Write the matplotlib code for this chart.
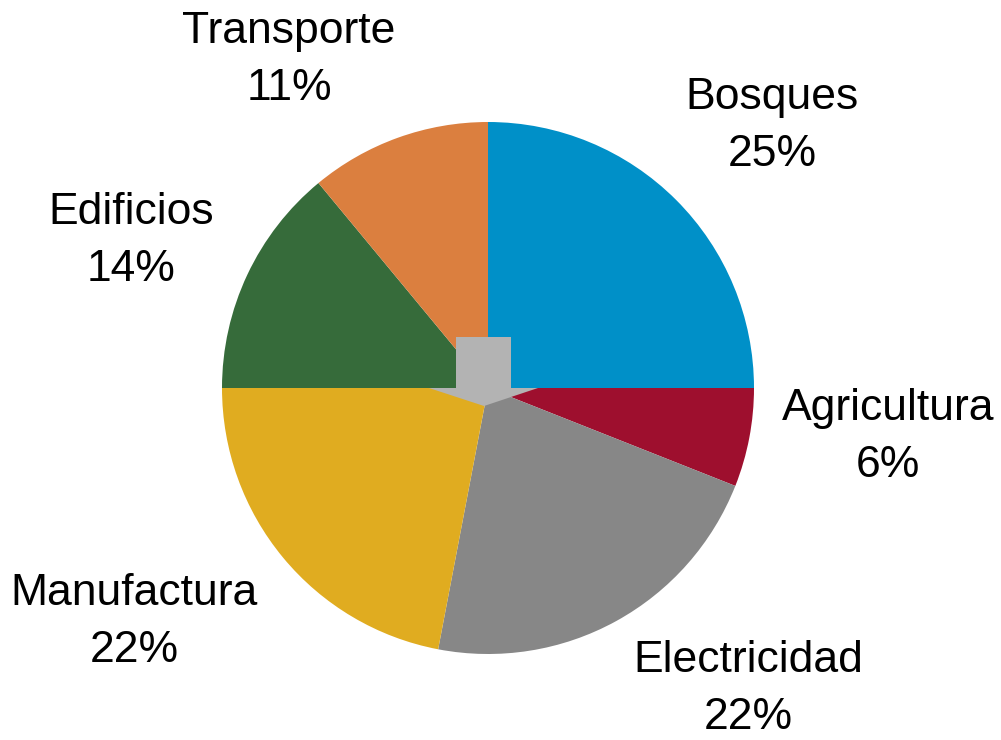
import matplotlib
matplotlib.use("Agg")
import matplotlib.pyplot as plt
from matplotlib.patches import Polygon

categories = ["Bosques", "Agricultura", "Electricidad", "Manufactura", "Edificios", "Transporte"]
values = [25, 6, 22, 22, 14, 11]
colors = ["#0090C8", "#9E0F2E", "#878787", "#E0AC20", "#366B3A", "#DB7F3F"]

W, H = 1001, 740
fig = plt.figure(figsize=(W / 100, H / 100), dpi=100)
ax = fig.add_axes([0, 0, 1, 1])

cx, cy, r = 488, H - 388, 266
ax.pie(values, colors=colors, startangle=90, counterclock=False,
       center=(cx, cy), radius=r, frame=True,
       wedgeprops=dict(linewidth=0))
ax.set_xlim(0, W)
ax.set_ylim(0, H)
ax.set_aspect("equal")
ax.axis("off")

# central arrow (decoration)
def P(x, y):
    return (x, H - y)
arrow = Polygon([P(456, 337), P(511, 337), P(511, 388), P(538, 388),
                 P(484, 406), P(429, 388), P(456, 388)],
                closed=True, facecolor="#B3B3B3", edgecolor="none", zorder=5)
ax.add_patch(arrow)

label_pos = {
    "Bosques": (772, 126),
    "Agricultura": (888, 437),
    "Electricidad": (748, 689),
    "Manufactura": (134, 622),
    "Edificios": (131, 241),
    "Transporte": (289, 60),
}
for cat, v in zip(categories, values):
    x, y = label_pos[cat]
    ax.text(x, H - y, f"{cat}\n{v}%", ha="center", va="center",
            fontsize=32, family="Liberation Sans", linespacing=1.5, color="black")

fig.savefig("out.png", dpi=100)
